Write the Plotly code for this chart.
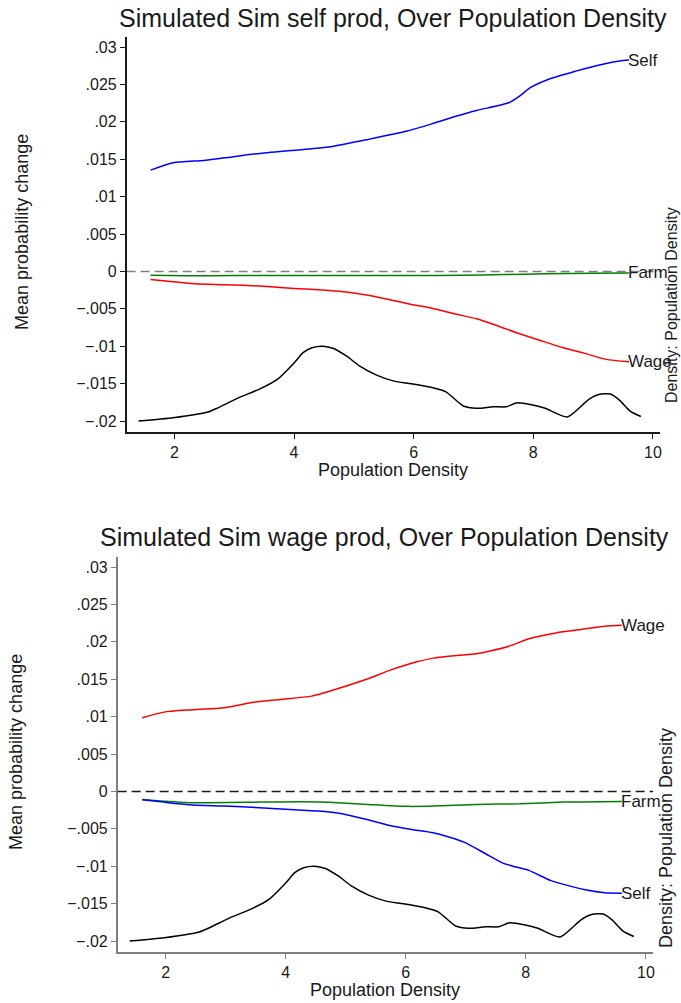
import plotly.graph_objects as go

# Kernel density of population density (shared by both panels)
dens_x = [1.40, 1.98, 2.56, 2.70, 3.07, 3.43, 3.72, 4.00, 4.15, 4.30, 4.48, 4.66,
          4.88, 5.10, 5.38, 5.67, 5.96, 6.32, 6.54, 6.83, 7.05, 7.33, 7.55, 7.73,
          7.99, 8.20, 8.57, 8.93, 9.11, 9.29, 9.44, 9.62, 9.80]
dens_y = [0.010, 0.023, 0.046, 0.060, 0.103, 0.139, 0.177, 0.243, 0.284, 0.304, 0.310, 0.301,
          0.270, 0.230, 0.194, 0.170, 0.159, 0.143, 0.127, 0.070, 0.061, 0.067, 0.067, 0.083,
          0.074, 0.061, 0.026, 0.097, 0.117, 0.118, 0.094, 0.050, 0.028]

# Panel 1: simulated self productivity shock
p1_self_x = [1.60, 1.98, 2.49, 2.85, 3.43, 4.15, 4.58, 5.24, 5.89, 6.33, 6.69, 7.05,
             7.59, 7.77, 7.95, 8.28, 8.71, 9.07, 9.50, 9.60]
p1_self_y = [0.01354, 0.01453, 0.01484, 0.0152, 0.01578, 0.0163, 0.01662, 0.01765, 0.01876,
             0.0198, 0.0207, 0.02152, 0.02255, 0.02344, 0.02456, 0.02576, 0.02678, 0.02754,
             0.0282, 0.02825]
p1_wage_x = [1.60, 1.98, 2.34, 2.85, 3.43, 4.00, 4.58, 4.88, 5.24, 5.60, 5.96, 6.32,
             6.68, 7.05, 7.41, 7.77, 8.13, 8.50, 8.86, 9.22, 9.60]
p1_wage_y = [-0.00107, -0.00138, -0.00165, -0.00178, -0.00196, -0.00227, -0.00254, -0.00276,
             -0.0032, -0.00379, -0.00441, -0.00495, -0.00566, -0.00633, -0.0073, -0.00834,
             -0.00927, -0.0102, -0.01096, -0.01176, -0.01208]
p1_farm_x = [1.60, 2.20, 3.00, 4.00, 5.00, 6.00, 6.80, 7.50, 8.20, 9.00, 9.60]
p1_farm_y = [-0.0005, -0.00058, -0.00056, -0.00054, -0.00053, -0.00055, -0.00052, -0.00042,
             -0.00032, -0.00025, -0.0002]

# Panel 2: simulated wage productivity shock
p2_wage_x = [1.61, 1.97, 2.40, 2.98, 3.49, 3.92, 4.43, 4.86, 5.37, 5.73, 6.17, 6.46,
             6.75, 7.18, 7.40, 7.76, 8.05, 8.48, 8.92, 9.35, 9.60]
p2_wage_y = [0.00985, 0.0106, 0.0109, 0.01119, 0.01194, 0.0123, 0.01274, 0.01373, 0.01507,
             0.01618, 0.01729, 0.01782, 0.01809, 0.0184, 0.01876, 0.01952, 0.02041, 0.02116,
             0.02166, 0.0221, 0.0222]
p2_self_x = [1.61, 1.97, 2.40, 2.98, 3.56, 4.14, 4.65, 4.94, 5.30, 5.73, 6.10, 6.46,
             6.97, 7.33, 7.62, 7.80, 8.05, 8.41, 8.63, 8.99, 9.32, 9.60]
p2_self_y = [-0.0011, -0.00143, -0.00178, -0.00196, -0.00218, -0.00245, -0.00267, -0.00298,
             -0.00365, -0.00455, -0.00508, -0.00552, -0.00678, -0.00833, -0.00959, -0.01003,
             -0.01056, -0.0119, -0.01243, -0.01314, -0.01354, -0.0136]
p2_farm_x = [1.61, 1.97, 2.40, 3.56, 4.28, 4.87, 5.44, 6.02, 6.46, 7.18, 7.90, 8.63, 9.60]
p2_farm_y = [-0.00107, -0.0013, -0.00151, -0.00143, -0.00138, -0.00151, -0.00178, -0.002,
             -0.00196, -0.00174, -0.00165, -0.00143, -0.00134]

y_ticks = [0.03, 0.025, 0.02, 0.015, 0.01, 0.005, 0, -0.005, -0.01, -0.015, -0.02]
y_tick_text = [".03", ".025", ".02", ".015", ".01", ".005", "0",
               "\u2212.005", "\u2212.01", "\u2212.015", "\u2212.02"]
x_ticks = [2, 4, 6, 8, 10]

titles = ["Simulated Sim self prod, Over Population Density",
          "Simulated Sim wage prod, Over Population Density"]

W, H = 681, 1003
SANS = "Liberation Sans, Arial, sans-serif"

X_RANGE = [1.2, 10.12]
Y_RANGE = [-0.02147, 0.03134]

# density axis scaled so its min sits at -.02 and its max at -.01
d_lo, d_hi = min(dens_y), max(dens_y)
scale = (d_hi - d_lo) / 0.01
Y2_RANGE = [d_lo + (Y_RANGE[0] + 0.02) * scale, d_lo + (Y_RANGE[1] + 0.02) * scale]

def px_x(p):
    return p / W

def px_y(p):
    return 1 - p / H

panels = [
    dict(xdom=[px_x(127), px_x(662)], ydom=[px_y(432), px_y(37)], axcol="#1a1a1a",
         zcol="#7f7f7f", title=(394, 18), xtitle=(394, 470), ytitle=(22, 232),
         y2t=(673, 305, 16),
         series=[(p1_self_x, p1_self_y, "#0000ff", "Self"),
                 (p1_farm_x, p1_farm_y, "#008000", "Farm"),
                 (p1_wage_x, p1_wage_y, "#ff0000", "Wage")]),
    dict(xdom=[px_x(118), px_x(655)], ydom=[px_y(952), px_y(557)], axcol="#7f7f7f",
         zcol="#1a1a1a", title=(386, 537), xtitle=(386, 990), ytitle=(16, 752),
         y2t=(668, 838, 18),
         series=[(p2_wage_x, p2_wage_y, "#ff0000", "Wage"),
                 (p2_farm_x, p2_farm_y, "#008000", "Farm"),
                 (p2_self_x, p2_self_y, "#0000ff", "Self")]),
]

fig = go.Figure()
layout = dict(width=W, height=H, margin=dict(l=0, r=0, t=0, b=0),
              paper_bgcolor="white", plot_bgcolor="white", showlegend=False,
              font=dict(family=SANS, color="#1a1a1a", size=15))
annotations = []
shapes = []

for i, p in enumerate(panels):
    xn = "x" if i == 0 else "x2"
    yn = "y" if i == 0 else "y3"
    y2n = "y2" if i == 0 else "y4"
    xk = "xaxis" if i == 0 else "xaxis2"
    yk = "yaxis" if i == 0 else "yaxis3"
    y2k = "yaxis2" if i == 0 else "yaxis4"

    layout[xk] = dict(domain=p["xdom"], anchor=yn, range=X_RANGE, tickvals=x_ticks,
                      ticks="outside", ticklen=5, tickcolor=p["axcol"], showgrid=False,
                      zeroline=False, showline=True, linecolor=p["axcol"], linewidth=1.5,
                      tickfont=dict(size=16))
    layout[yk] = dict(domain=p["ydom"], anchor=xn, range=Y_RANGE, tickvals=y_ticks,
                      ticktext=y_tick_text, ticks="outside", ticklen=5, tickcolor=p["axcol"],
                      showgrid=False, zeroline=False, showline=True, linecolor=p["axcol"],
                      linewidth=1.5, tickfont=dict(size=16))
    layout[y2k] = dict(overlaying=yn, side="right", range=Y2_RANGE, visible=False,
                       showgrid=False, zeroline=False)

    # zero reference line
    shapes.append(dict(type="line", xref=f"{xn} domain", yref=yn, x0=0, x1=1, y0=0, y1=0,
                       line=dict(color=p["zcol"], width=1.5, dash="9px,5px"), layer="below"))

    fig.add_trace(go.Scatter(x=dens_x, y=dens_y, xaxis=xn, yaxis=y2n, mode="lines",
                             line=dict(color="black", width=1.5, shape="spline", smoothing=0.6),
                             hoverinfo="skip"))
    for sx, sy, col, lab in p["series"]:
        fig.add_trace(go.Scatter(x=sx, y=sy, xaxis=xn, yaxis=yn, mode="lines",
                                 line=dict(color=col, width=1.5, shape="spline", smoothing=0.6),
                                 hoverinfo="skip"))
        annotations.append(dict(x=sx[-1], y=sy[-1], xref=xn, yref=yn, text=lab,
                                showarrow=False, xanchor="left", yanchor="middle", xshift=-3,
                                font=dict(size=17, color="#1a1a1a")))

    annotations.append(dict(x=px_x(p["title"][0]), y=px_y(p["title"][1]), xref="paper",
                            yref="paper", text=titles[i], showarrow=False, xanchor="center",
                            yanchor="middle", font=dict(size=25)))
    annotations.append(dict(x=px_x(p["xtitle"][0]), y=px_y(p["xtitle"][1]),
                            xref="paper", yref="paper", text="Population Density",
                            showarrow=False, xanchor="center", yanchor="middle",
                            font=dict(size=18)))
    annotations.append(dict(x=px_x(p["ytitle"][0]), y=px_y(p["ytitle"][1]),
                            xref="paper", yref="paper", text="Mean probability change",
                            showarrow=False, textangle=-90, xanchor="center",
                            yanchor="middle", font=dict(size=18)))
    annotations.append(dict(x=px_x(p["y2t"][0]), y=px_y(p["y2t"][1]), xref="paper",
                            yref="paper", text="Density: Population Density",
                            showarrow=False, textangle=-90, xanchor="center",
                            yanchor="middle", font=dict(size=p["y2t"][2])))

layout["annotations"] = annotations
layout["shapes"] = shapes
fig.update_layout(**layout)
fig.write_html("out.html")
